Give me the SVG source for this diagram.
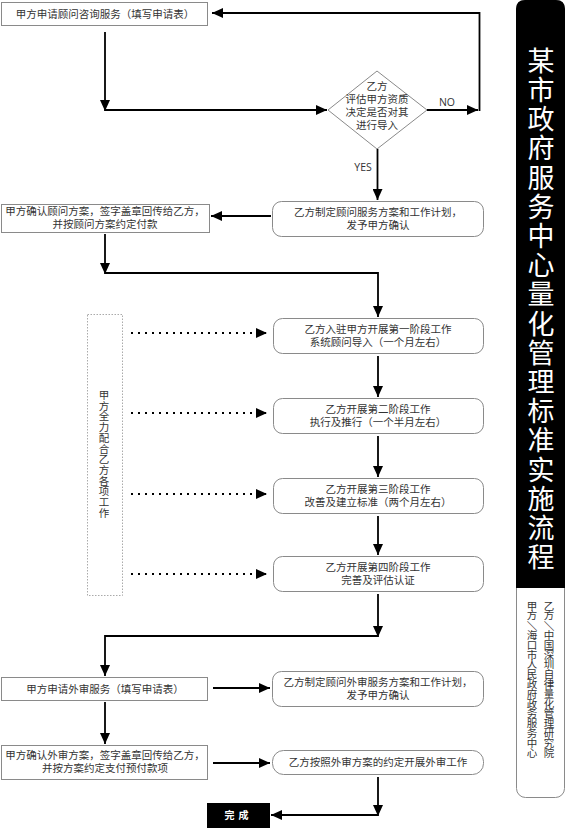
<svg xmlns="http://www.w3.org/2000/svg" width="566" height="828" viewBox="0 0 566 828">
<style>
.bx{fill:#fff;stroke:#8a8a8a;stroke-width:1}
.t{font-family:"Liberation Sans","Noto Sans CJK SC",sans-serif;font-size:10.5px;fill:#333;text-anchor:middle}
.ln{fill:none;stroke:#000;stroke-width:1.8}
.dot{fill:none;stroke:#000;stroke-width:2;stroke-dasharray:2 5}
.vt{font-family:"Noto Sans CJK SC","Noto Sans",sans-serif;writing-mode:vertical-rl}
</style>
<defs>
<marker id="ah" markerUnits="userSpaceOnUse" markerWidth="12" markerHeight="10" refX="11" refY="5" orient="auto">
<path d="M0,0 L11,5 L0,10 Z" fill="#000"/>
</marker>
</defs>
<rect width="566" height="828" fill="#fff"/>

<g id="title">
<rect x="516.5" y="0.5" width="48" height="797" rx="9" fill="#fff" stroke="#8a8a8a"/>
<path d="M516,9 Q516,0 525,0 L556,0 Q565,0 565,9 L565,588 L516,588 Z" fill="#000"/>
<text class="vt" x="541" y="47" font-size="27" letter-spacing="2.2" fill="#fff">某市政府服务中心量化管理标准实施流程</text>
<text class="t" font-size="9.5" x="549 549 550.25 549 549 549 549 549 549 549 549 549 549 549 549 549" y="609.5 619.3 620.85 638.9 648.7 658.5 668.3 678.1 687.9 697.7 707.5 717.3 727.1 736.9 746.7 756.5" rotate="0 0 90 0 0 0 0 0 0 0 0 0 0 0 0 0">乙方／中国深圳自律量化管理研究院</text>
<text class="t" font-size="9.5" x="532 532 533.25 532 532 532 532 532 532 532 532 532 532 532 532 532" y="609.5 619.3 620.85 638.9 648.7 658.5 668.3 678.1 687.9 697.7 707.5 717.3 727.1 736.9 746.7 756.5" rotate="0 0 90 0 0 0 0 0 0 0 0 0 0 0 0 0">甲方／海口市人民政府政务服务中心</text>
</g>

<g id="n1"><rect class="bx" x="1.5" y="2.5" width="206" height="23"/><text class="t" x="105" y="17.5">甲方申请顾问咨询服务（填写申请表）</text></g>

<g id="n2"><path class="bx" d="M377,71 L427,110 L377,149 L328,110 Z"/>
<text class="t" font-size="10" x="377" y="90">乙方<tspan x="377" dy="13">评估甲方资质</tspan><tspan x="377" dy="13">决定是否对其</tspan><tspan x="377" dy="13">进行导入</tspan></text></g>

<g id="n3"><rect class="bx" x="272.5" y="201.5" width="211" height="35" rx="9"/><text class="t" x="378" y="216">乙方制定顾问服务方案和工作计划，<tspan x="378" dy="12.5">发予甲方确认</tspan></text></g>

<g id="n4"><rect class="bx" x="1.5" y="204.5" width="208" height="28"/><text class="t" x="105" y="215">甲方确认顾问方案，签字盖章回传给乙方，<tspan x="105" dy="12.5">并按顾问方案约定付款</tspan></text></g>

<g id="n5"><rect class="bx" x="273.5" y="318.5" width="210" height="35" rx="9"/><text class="t" x="378" y="333">乙方入驻甲方开展第一阶段工作<tspan x="378" dy="12.5">系统顾问导入（一个月左右）</tspan></text></g>

<g id="n6"><rect class="bx" x="273.5" y="398.5" width="210" height="35" rx="9"/><text class="t" x="378" y="413">乙方开展第二阶段工作<tspan x="378" dy="12.5">执行及推行（一个半月左右）</tspan></text></g>

<g id="n7"><rect class="bx" x="273.5" y="478.5" width="210" height="35" rx="9"/><text class="t" x="378" y="493">乙方开展第三阶段工作<tspan x="378" dy="12.5">改善及建立标准（两个月左右）</tspan></text></g>

<g id="n8"><rect class="bx" x="273.5" y="556.5" width="210" height="35" rx="9"/><text class="t" x="378" y="571">乙方开展第四阶段工作<tspan x="378" dy="12.5">完善及评估认证</tspan></text></g>

<g id="n9"><rect x="87.5" y="314.5" width="35" height="281" fill="#fff" stroke="#aaa" stroke-dasharray="1.5 1.5"/>
<text class="t" x="104 104 104 104 104 104 104 104 104 104 104 104" y="399 409.7 420.4 431.1 441.8 452.5 463.2 473.9 484.6 495.3 506 516.7">甲方全力配合乙方各项工作</text></g>

<g id="n10"><rect class="bx" x="1.5" y="677.5" width="206" height="23"/><text class="t" x="105" y="692.5">甲方申请外审服务（填写申请表）</text></g>

<g id="n11"><rect class="bx" x="272.5" y="671.5" width="211" height="35" rx="9"/><text class="t" x="378" y="686">乙方制定顾问外审服务方案和工作计划，<tspan x="378" dy="12.5">发予甲方确认</tspan></text></g>

<g id="n12"><rect class="bx" x="1.5" y="745.5" width="206" height="34"/><text class="t" x="105" y="759">甲方确认外审方案，签字盖章回传给乙方，<tspan x="105" dy="12.5">并按方案约定支付预付款项</tspan></text></g>

<g id="n13"><rect class="bx" x="272.5" y="750.5" width="211" height="24" rx="11"/><text class="t" x="378" y="766">乙方按照外审方案的约定开展外审工作</text></g>

<g id="n14"><rect x="207" y="803" width="63" height="25" fill="#000"/><text x="238.5" y="819" font-family="'Noto Sans CJK SC',sans-serif" font-size="10" font-weight="bold" fill="#fff" text-anchor="middle" letter-spacing="4">完成</text></g>

<g id="connectors">
<path class="ln" d="M427,110 H478" marker-end="url(#ah)"/>
<path class="ln" d="M479.5,111 V13 H212" marker-end="url(#ah)"/>
<text x="447" y="106" font-family="'Open Sans','Liberation Sans',sans-serif" font-size="10.5" fill="#333" text-anchor="middle">NO</text>
<path class="ln" d="M105,32 V111" marker-end="url(#ah)"/>
<path class="ln" d="M105,110 H327" marker-end="url(#ah)"/>
<path class="ln" d="M377.5,149 V200" marker-end="url(#ah)"/>
<text x="363" y="171" font-family="'Open Sans','Liberation Sans',sans-serif" font-size="10.5" fill="#333" text-anchor="middle">YES</text>
<path class="ln" d="M271,216 H211" marker-end="url(#ah)"/>
<path class="ln" d="M105,234 V274" marker-end="url(#ah)"/>
<path class="ln" d="M105,273 H378 V317" marker-end="url(#ah)"/>
<path class="ln" d="M378,356 V397" marker-end="url(#ah)"/>
<path class="ln" d="M378,436 V477" marker-end="url(#ah)"/>
<path class="ln" d="M378,516 V555" marker-end="url(#ah)"/>
<path class="ln" d="M378,594 V637" marker-end="url(#ah)"/>
<path class="ln" d="M378,636 H105 V676" marker-end="url(#ah)"/>
<path class="ln" d="M213,688 H270" marker-end="url(#ah)"/>
<path class="ln" d="M105,702 V744" marker-end="url(#ah)"/>
<path class="ln" d="M213,763 H270" marker-end="url(#ah)"/>
<path class="ln" d="M378,777 V816" marker-end="url(#ah)"/>
<path class="ln" d="M378,815 H271" marker-end="url(#ah)"/>
<path class="dot" d="M131,333 H267" marker-end="url(#ah)"/>
<path class="dot" d="M131,413 H267" marker-end="url(#ah)"/>
<path class="dot" d="M131,494 H267" marker-end="url(#ah)"/>
<path class="dot" d="M131,574 H267" marker-end="url(#ah)"/>
</g>
</svg>
